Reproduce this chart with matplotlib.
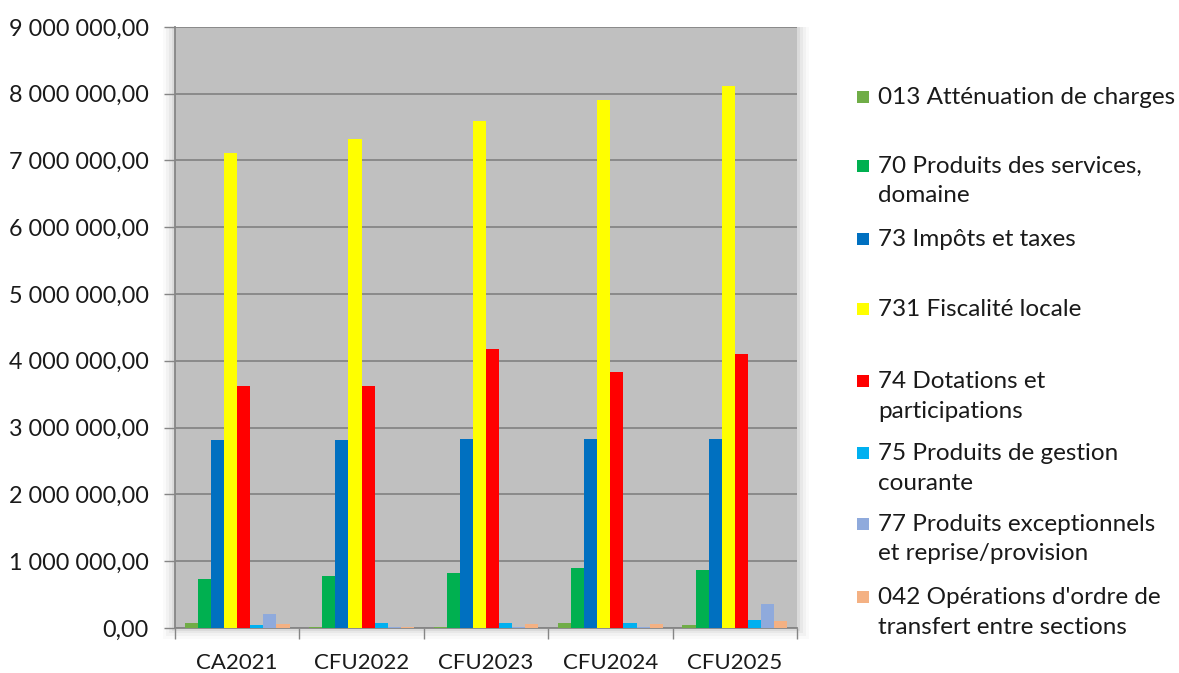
import matplotlib.pyplot as plt
import numpy as np
from matplotlib.ticker import FuncFormatter, FixedLocator
from matplotlib.patches import Rectangle

plt.rcParams['font.family'] = ['Lato', 'DejaVu Sans']

categories = ['CA2021', 'CFU2022', 'CFU2023', 'CFU2024', 'CFU2025']

series_names = [
    "013 Atténuation de charges",
    "70 Produits des services,\ndomaine",
    "73 Impôts et taxes",
    "731 Fiscalité locale",
    "74 Dotations et\nparticipations",
    "75 Produits de gestion\ncourante",
    "77 Produits exceptionnels\net reprise/provision",
    "042 Opérations d'ordre de\ntransfert entre sections",
]

attenuation = [79000, 20000, 20000, 79000, 40000]
produits_services = [739000, 783000, 818000, 897000, 872000]
impots_taxes = [2820000, 2820000, 2835000, 2835000, 2835000]
fiscalite_locale = [7105000, 7315000, 7585000, 7905000, 8120000]
dotations = [3620000, 3620000, 4180000, 3835000, 4105000]
gestion_courante = [40000, 79000, 79000, 79000, 118000]
exceptionnels = [212000, 20000, 20000, 20000, 365000]
ordre_transfert = [59000, 15000, 59000, 59000, 99000]

values = [attenuation, produits_services, impots_taxes, fiscalite_locale,
          dotations, gestion_courante, exceptionnels, ordre_transfert]

colors = ['#70AD47', '#00B050', '#0070C0', '#FFFF00',
          '#FF0000', '#00B0F0', '#8FAADC', '#F4B183']

fig = plt.figure(figsize=(11.79, 6.73), dpi=100)
ax = fig.add_axes([0.1484, 0.0669, 0.5276, 0.8931])

# ombre légère autour de la zone de tracé
for i, a in enumerate([0.05, 0.04, 0.03, 0.02]):
    d = (i + 1) * 0.0025
    fig.patches.append(Rectangle((0.1484 - d, 0.0669 - 1.6 * d), 0.5276 + 2 * d, 0.8931 + 1.6 * d,
                                 transform=fig.transFigure, facecolor='black', alpha=a,
                                 edgecolor='none', zorder=-5))

ax.set_facecolor('#C0C0C0')
x = np.arange(len(categories))
w = 1 / 9.5
for i, (vals, col) in enumerate(zip(values, colors)):
    ax.bar(x + (i - 3.5) * w, vals, width=w, color=col, edgecolor='none', zorder=3)

ax.set_xlim(-0.5, len(categories) - 0.5)
ax.set_ylim(0, 9000000)
ax.set_yticks(np.arange(0, 9000001, 1000000))
ax.yaxis.set_major_formatter(FuncFormatter(
    lambda v, p: f"{v:,.2f}".replace(",", " ").replace(".", ",")))
ax.grid(axis='y', color='#868686', linewidth=1.3, zorder=1)

ax.set_xticks(x)
ax.set_xticklabels(categories)
ax.xaxis.set_minor_locator(FixedLocator(np.arange(-0.5, len(categories), 1)))
ax.tick_params(axis='x', which='major', length=0, pad=18, labelsize=16, labelcolor='#1a1a1a')
ax.tick_params(axis='x', which='minor', length=8, width=1, color='#868686', direction='out')
ax.tick_params(axis='y', length=8, width=1, color='#868686', pad=11, labelsize=16.8, labelcolor='#1a1a1a')

for s in ['top', 'right']:
    ax.spines[s].set_visible(False)
for s in ['left', 'bottom']:
    ax.spines[s].set_color('#868686')
    ax.spines[s].set_linewidth(1.3)

# légende à droite
leg_y = [97, 166, 239, 309, 381, 453, 524, 597]
H = 673.0
for name, col, yy in zip(series_names, colors, leg_y):
    fig.patches.append(Rectangle((857 / 1179, (H - yy - 6) / H), 12 / 1179, 12 / H,
                                 transform=fig.transFigure, facecolor=col, edgecolor='none'))
    fig.text(878 / 1179, (H - yy + 10) / H, name, fontsize=17.5, va='top', ha='left',
             color='#1a1a1a', linespacing=1.5)

fig.savefig('out.png', dpi=100)
